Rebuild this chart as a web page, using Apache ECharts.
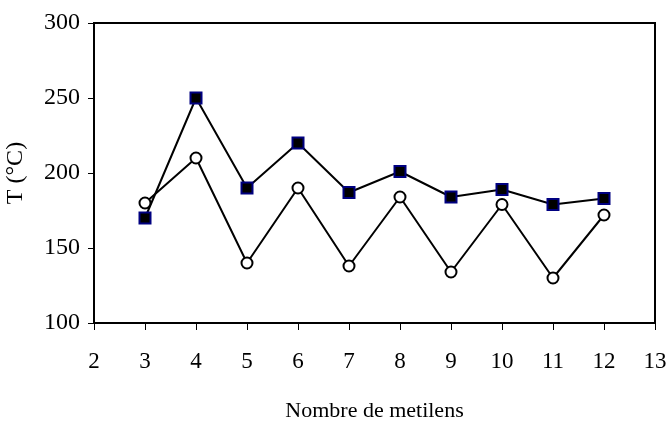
<!DOCTYPE html>
<html>
<head>
<meta charset="utf-8">
<script src="https://cdn.jsdelivr.net/npm/echarts@6/dist/echarts.min.js"></script>
<style>html,body{margin:0;padding:0;background:#fff}#c{width:669px;height:421px}</style>
</head>
<body>
<div id="c"></div>
<script>
const metilens = [3, 4, 5, 6, 7, 8, 9, 10, 11, 12];
const squareSeries = [170, 250, 190, 220, 187, 201, 184, 189, 179, 183];
const circleSeries = [180, 210, 140, 190, 138, 184, 134, 179, 130, 172];
const xTitle = 'Nombre de metilens';
const yTitle = 'T (°C)';

const font = 'Liberation Serif';
const chart = echarts.init(document.getElementById('c'));
chart.setOption({
  animation: false,
  backgroundColor: '#fff',
  grid: { left: 94, top: 23, right: 14, bottom: 98, show: true, borderColor: '#000', borderWidth: 2,
          containLabel: false, outerBoundsMode: 'none' },
  xAxis: {
    type: 'value', min: 2, max: 13, interval: 1,
    name: xTitle, nameLocation: 'middle', nameGap: 77,
    nameTextStyle: { fontFamily: font, fontSize: 22, color: '#000' },
    axisLine: { lineStyle: { color: '#000', width: 2 } },
    axisTick: { show: true, length: 7, lineStyle: { color: '#000', width: 1 } },
    axisLabel: { fontFamily: font, fontSize: 23, color: '#000', margin: 27 },
    splitLine: { show: false }
  },
  yAxis: {
    type: 'value', min: 100, max: 300, interval: 50,
    name: yTitle, nameLocation: 'middle', nameGap: 66,
    nameTextStyle: { fontFamily: font, fontSize: 24, color: '#000' },
    axisLine: { show: true, lineStyle: { color: '#000', width: 2 } },
    axisTick: { show: true, length: 6, lineStyle: { color: '#000', width: 1 } },
    axisLabel: { fontFamily: font, fontSize: 24, color: '#000', margin: 14 },
    splitLine: { show: false }
  },
  series: [
    {
      type: 'line', data: metilens.map((x, i) => [x, circleSeries[i]]),
      symbol: 'circle', symbolSize: 11,
      lineStyle: { color: '#000', width: 2 },
      itemStyle: { color: '#fff', borderColor: '#000', borderWidth: 2 }
    },
    {
      type: 'line', data: metilens.map((x, i) => [x, squareSeries[i]]),
      symbol: 'rect', symbolSize: 11,
      lineStyle: { color: '#000', width: 2 },
      itemStyle: { color: '#000', borderColor: '#000080', borderWidth: 2 }
    }
  ]
});
</script>
</body>
</html>
